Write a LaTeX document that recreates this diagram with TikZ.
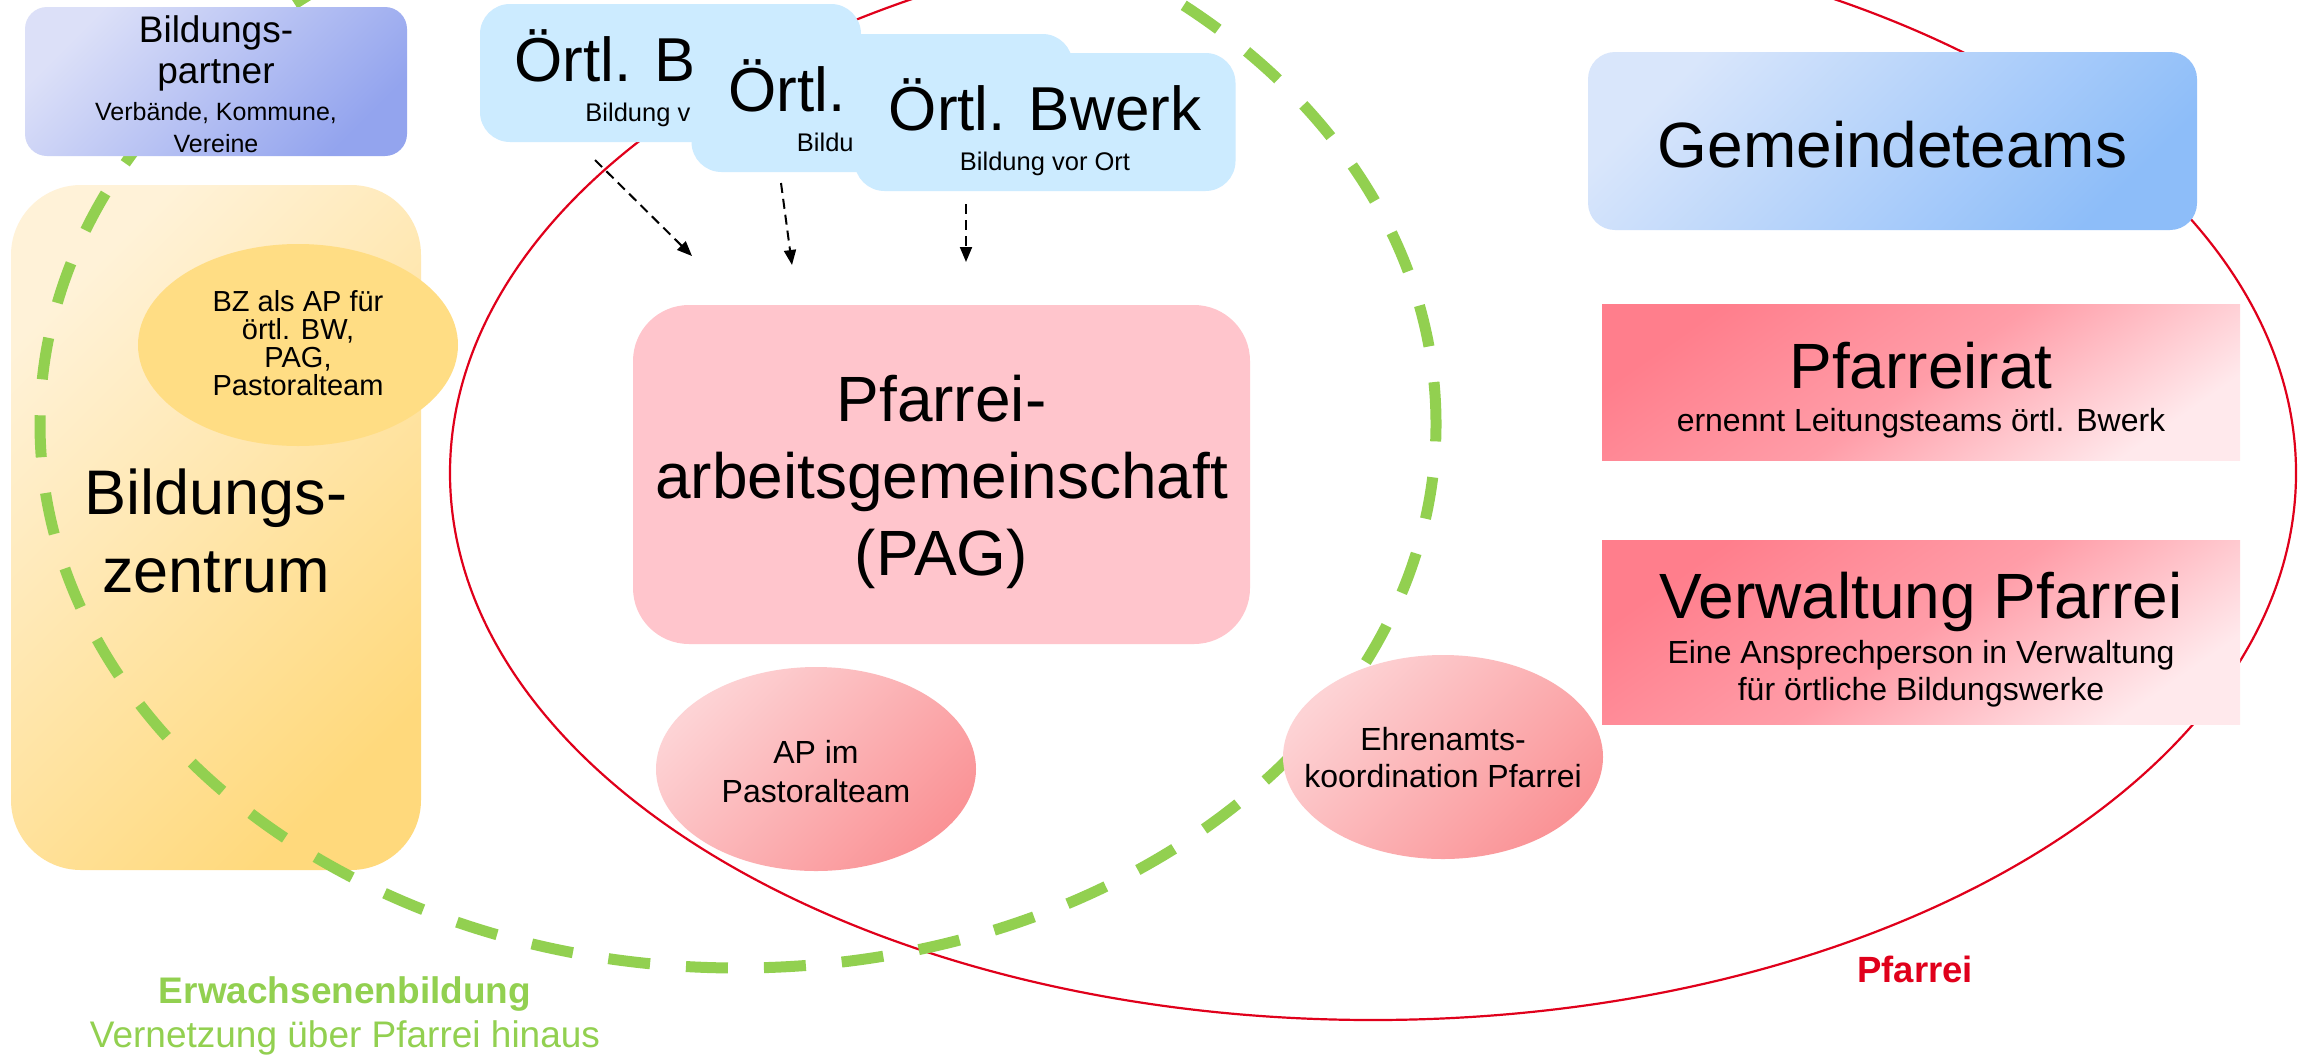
\documentclass[tikz,border=0pt]{standalone}
\usepackage{fontspec}
\setmainfont{Liberation Sans}
\usetikzlibrary{shapes.geometric,arrows.meta}
\definecolor{egreen}{HTML}{92D050}
\definecolor{pred}{HTML}{E0001B}
\definecolor{bpA}{HTML}{DCE0F8}
\definecolor{bpB}{HTML}{93A4EE}
\definecolor{bzA}{HTML}{FFF2D8}
\definecolor{bzB}{HTML}{FFD97C}
\definecolor{bzap}{HTML}{FFDD84}
\definecolor{obfill}{HTML}{CCEBFF}
\definecolor{pagfill}{HTML}{FFC5CC}
\definecolor{apA}{HTML}{FDD3D5}
\definecolor{apB}{HTML}{FA9396}
\definecolor{gtA}{HTML}{D9E6FB}
\definecolor{gtB}{HTML}{8DBDF9}
\definecolor{prA}{HTML}{FF7E8C}
\definecolor{prM}{HTML}{FF9DA8}
\definecolor{prB}{HTML}{FFE9EC}
\newcommand\tightskip{\baselineskip=0pt\lineskip=0pt\lineskiplimit=0pt}
\newcommand\rowt[3]{\raisebox{0pt}[#2][0pt]{\fontsize{#1}{0pt}\selectfont #3}}
\newcommand\rowz[3]{\makebox[0pt]{\raisebox{0pt}[#2][0pt]{\fontsize{#1}{0pt}\selectfont #3}}}
\tikzset{
  every node/.style={inner sep=0pt, outer sep=0pt, align=center, text depth=0pt, font=\tightskip},
  diag/.style 2 args={top color=#1, bottom color=#2, shading angle=45},
  dasharrow/.style={draw=black, line width=1pt, dash pattern=on 5pt off 3pt, -{Triangle[length=7.5pt,width=6pt]}},
  obox/.style={fill=obfill, rounded corners=15pt, minimum width=190.5pt, minimum height=69pt, text height=48pt},
  redbox/.style={top color=prA, bottom color=prB, middle color=prM, shading angle=35, minimum width=319pt},
  pinkell/.style={ellipse, diag={apA}{apB}, minimum width=160pt, minimum height=102pt},
}
\begin{document}
\begin{tikzpicture}[x=0.5pt, y=-0.5pt]
\useasboundingbox (0,0) rectangle (2310,1055);
\fill[white] (0,0) rectangle (2310,1055);

% Pfarrei ellipse
\draw[pred, line width=1.1pt] (1373,473) ellipse [x radius=461.5pt, y radius=273.5pt];

% Bildungszentrum
\node[diag={bzA}{bzB}, rounded corners=35pt, minimum width=205pt, minimum height=342.5pt, text height=64.5pt] (bz) at (216,527.5)
  {\rowt{31.5pt}{30pt}{Bildungs-}\\ \rowt{31.5pt}{39pt}{zentrum}};
\node[ellipse, fill=bzap, minimum width=160pt, minimum height=101pt, text height=50pt] (bzap) at (298,345)
  {\rowz{14.5pt}{14pt}{BZ als AP für}\\ \rowz{14.5pt}{14pt}{örtl. BW,}\\ \rowz{14.5pt}{14pt}{PAG,}\\ \rowz{14.5pt}{14pt}{Pastoralteam}};

% Erwachsenenbildung ellipse
\draw[egreen, line width=5.5pt, dash pattern=on 21pt off 18pt] (738,424) ellipse [x radius=349pt, y radius=272pt];

% Bildungspartner
\node[diag={bpA}{bpB}, rounded corners=11pt, minimum width=191pt, minimum height=74.5pt, text height=70.5pt] (bp) at (216,81.5)
  {\rowt{18.5pt}{18pt}{Bildungs-}\\ \rowt{18.5pt}{20.5pt}{partner}\\ \rowt{12.5pt}{18.5pt}{Verbände, Kommune,}\\ \rowt{12.5pt}{16pt}{Vereine}};

% Oertliche Bildungswerke (stacked cards)
\node[obox] (ob1) at (670.5,73) {\rowt{31pt}{30pt}{Örtl. B\phantom{werk}}\\ \rowt{12.75pt}{20pt}{Bildung v\phantom{or Ort}}};
\node[obox] (ob2) at (882,103) {\rowt{31pt}{30pt}{Örtl.\phantom{ Bwerk}}\\ \rowt{12.75pt}{20pt}{Bildu\phantom{ng vor Ort}}};
\node[obox] (ob3) at (1045,122) {\rowt{31pt}{30pt}{Örtl. Bwerk}\\ \rowt{12.75pt}{20pt}{Bildung vor Ort}};

\coordinate (a1s) at (595,160); \coordinate (a1e) at (692,256);
\coordinate (a2s) at (781,183); \coordinate (a2e) at (792,265);
\coordinate (a3s) at (966,204); \coordinate (a3e) at (966,262);
\draw[dasharrow] (a1s) -- (a1e);
\draw[dasharrow] (a2s) -- (a2e);
\draw[dasharrow] (a3s) -- (a3e);

% PAG
\node[fill=pagfill, rounded corners=28pt, minimum width=308.5pt, minimum height=169.5pt, text height=100.5pt] (pag) at (941.5,474.5)
  {\rowt{32pt}{30pt}{Pfarrei-}\\ \rowt{32pt}{38.5pt}{arbeitsgemeinschaft}\\ \rowt{32pt}{38.5pt}{(PAG)}};

\node[pinkell, text height=33pt] (ap) at (816,769)
  {\rowz{16pt}{15pt}{AP im}\\ \rowz{16pt}{19.5pt}{Pastoralteam}};
\node[pinkell, text height=30pt] (eh) at (1443,757)
  {\rowz{16pt}{15pt}{Ehrenamts-}\\ \rowz{16pt}{18.5pt}{koordination Pfarrei}};

% right column
\node[diag={gtA}{gtB}, rounded corners=13.5pt, minimum width=304.5pt, minimum height=89pt, text height=26pt] (gt) at (1892.5,141)
  {\rowt{32pt}{30pt}{Gemeindeteams}};
\node[redbox, minimum height=78pt, text height=49pt] (pr) at (1921,382)
  {\rowt{32pt}{30pt}{Pfarreirat}\\ \rowt{16pt}{21.5pt}{ernennt Leitungsteams örtl. Bwerk}};
\node[redbox, minimum height=92pt, text height=68pt] (vw) at (1921,632)
  {\rowt{32pt}{30pt}{Verwaltung Pfarrei}\\ \rowt{16pt}{22.5pt}{Eine Ansprechperson in Verwaltung}\\ \rowt{16pt}{18.5pt}{für örtliche Bildungswerke}};

% labels
\node[anchor=base, text=egreen] (eblabel) at (345,1047)
  {\rowt{18.5pt}{14pt}{\bfseries Erwachsenenbildung}\\ \rowt{18.5pt}{22pt}{Vernetzung über Pfarrei hinaus}};
\node[anchor=base, text=pred] (pflabel) at (1915,982)
  {\rowt{18.25pt}{14pt}{\bfseries Pfarrei}};
\end{tikzpicture}
\end{document}
